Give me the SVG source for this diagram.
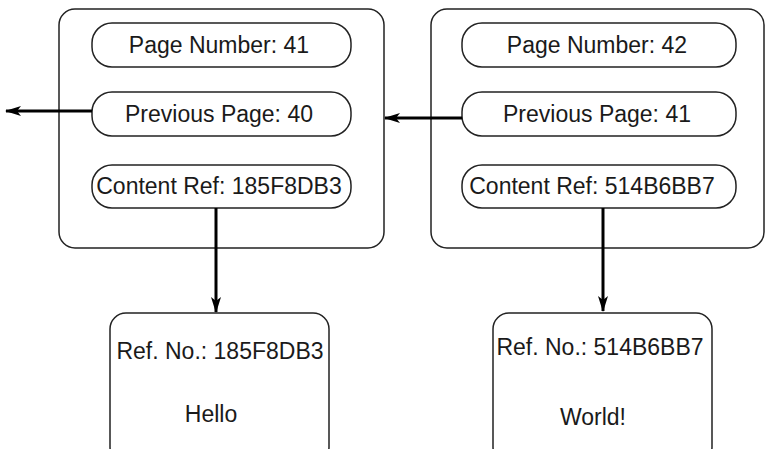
<svg xmlns="http://www.w3.org/2000/svg" width="766" height="449" viewBox="0 0 766 449">
<style>
.box{fill:#fff;stroke:#222;stroke-width:1.5}
.pill{fill:#fff;stroke:#222;stroke-width:1.5}
text{font-family:"Liberation Sans",Arial,sans-serif;font-size:23px;fill:#1a1a1a;text-anchor:middle}
.edge{stroke:#000;stroke-width:3;fill:none}
</style>
<defs>
<marker id="ah" viewBox="0 0 16 10" refX="15" refY="5" markerWidth="16" markerHeight="10" markerUnits="userSpaceOnUse" orient="auto">
<path d="M0,0 L16,5 L0,10 L4,5 Z" fill="#000"/>
</marker>
</defs>
<g id="page41">
<rect class="box" x="59" y="9" width="325" height="239" rx="16"/>
<g id="p41-number"><rect class="pill" x="92" y="23" width="259" height="44" rx="20"/><text x="219" y="53">Page Number: 41</text></g>
<g id="p41-prev"><rect class="pill" x="92" y="92" width="259" height="44" rx="20"/><text x="219" y="122">Previous Page: 40</text></g>
<g id="p41-content"><rect class="pill" x="92" y="165" width="259" height="43" rx="20"/><text x="219" y="194">Content Ref: 185F8DB3</text></g>
</g>
<g id="page42">
<rect class="box" x="431" y="9" width="333" height="239" rx="16"/>
<g id="p42-number"><rect class="pill" x="462" y="23" width="274" height="44" rx="20"/><text x="597" y="53">Page Number: 42</text></g>
<g id="p42-prev"><rect class="pill" x="462" y="92" width="274" height="44" rx="20"/><text x="597" y="122">Previous Page: 41</text></g>
<g id="p42-content"><rect class="pill" x="462" y="165" width="274" height="43" rx="20"/><text x="592" y="194">Content Ref: 514B6BB7</text></g>
</g>
<g id="content-185F8DB3">
<rect class="box" x="110" y="313" width="219" height="150" rx="16"/>
<text x="220" y="359">Ref. No.: 185F8DB3</text>
<text x="211" y="422">Hello</text>
</g>
<g id="content-514B6BB7">
<rect class="box" x="493" y="313" width="219" height="150" rx="16"/>
<text x="600" y="355">Ref. No.: 514B6BB7</text>
<text x="593" y="425">World!</text>
</g>
<g id="connectors">
<line class="edge" x1="92" y1="111" x2="6" y2="111" marker-end="url(#ah)"/>
<line class="edge" x1="462" y1="118" x2="385" y2="118" marker-end="url(#ah)"/>
<line class="edge" x1="216" y1="208" x2="216" y2="312" marker-end="url(#ah)"/>
<line class="edge" x1="603" y1="208" x2="603" y2="311" marker-end="url(#ah)"/>
</g>
</svg>
